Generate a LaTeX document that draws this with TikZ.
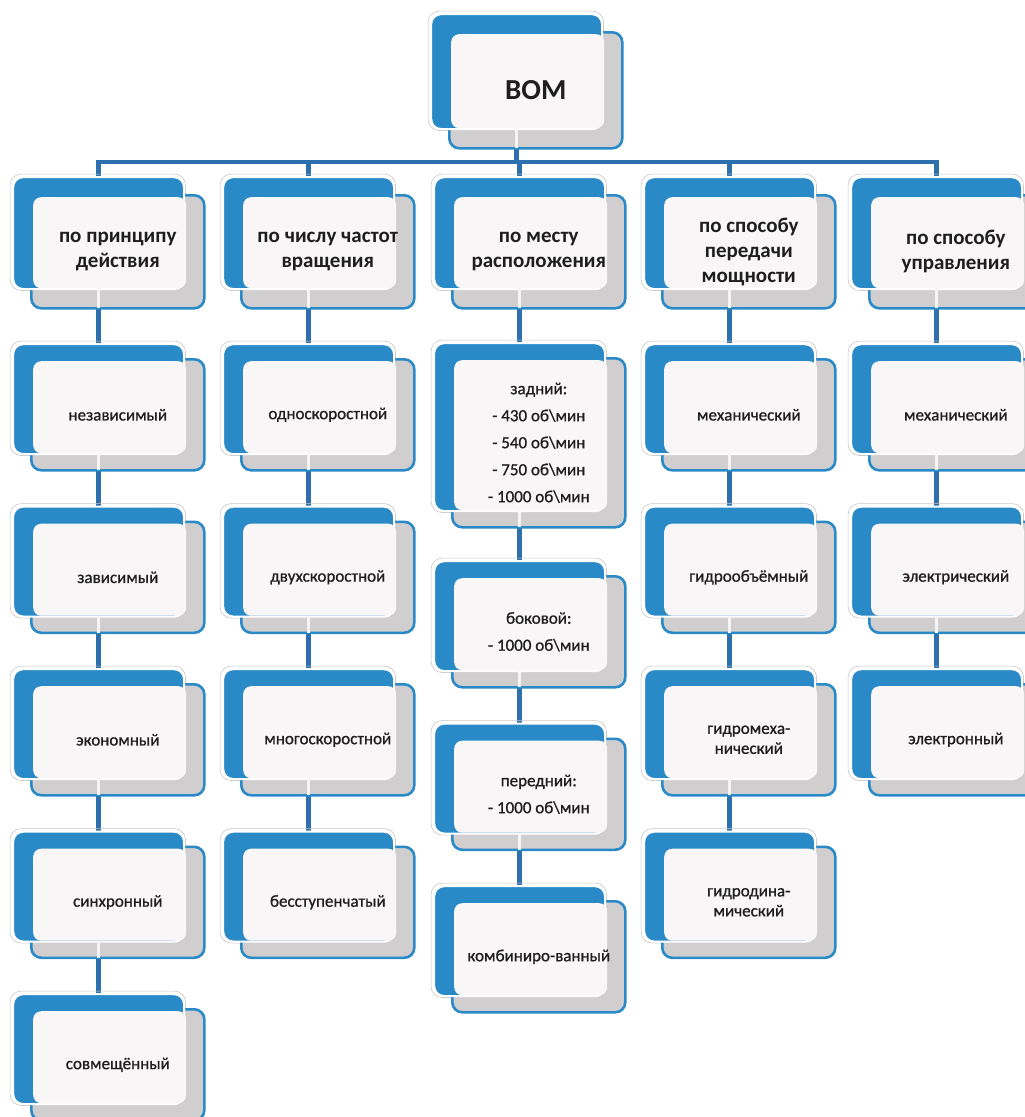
\documentclass[tikz,border=0pt]{standalone}
\usepackage{fontspec}
\setmainfont{Carlito}
\usetikzlibrary{backgrounds}
\definecolor{bl}{HTML}{2A8AC8}
\definecolor{gr}{HTML}{D0CECE}
\definecolor{wh}{HTML}{F8F6F7}
\definecolor{cn}{HTML}{2E70AE}
\definecolor{tx}{HTML}{1E1E1E}
\tikzset{
  outerln/.style={draw=black!22, line width=0.6pt, rounded corners=11pt, inner sep=0pt, anchor=north west},
  bluebox/.style={fill=bl, draw=white, line width=2.2pt, rounded corners=10pt, inner sep=0pt, anchor=north west},
  framebox/.style={fill=gr, draw=bl, line width=2.6pt, rounded corners=10pt, inner sep=0pt, anchor=north west},
  frontbox/.style={fill=wh, rounded corners=8pt, inner sep=0pt, anchor=north west},
  conn/.style={draw=cn, line width=4.5pt},
  wseg/.style={draw=white!96!black, line width=2.5pt},
  lvtop/.style={font=\fontsize{29}{34}\selectfont\bfseries, text=tx, align=center},
  lvone/.style={font=\fontsize{21}{25}\selectfont\bfseries, text=tx, align=center},
  lvtwo/.style={font=\fontsize{17}{20}\selectfont\addfontfeature{FakeBold=0.9}, text=tx, align=center},
  lvtwow/.style={font=\fontsize{17}{27}\selectfont\addfontfeature{FakeBold=0.9}, text=tx, align=center},
}
% #1 name, #2 x0, #3 y0, #4 h, #5 d, #6 text style, #7 text
\newcommand\mkbox[7]{%
  \node[outerln, minimum width=175.4pt, minimum height={#4+4.4}] (#1-o) at ({#2-2.2},{#3-2.2}) {};
  \node[framebox, minimum width=173pt, minimum height={#4+1}] (#1-f) at ({#2+18},{#3+#5}) {};
  \node[bluebox, minimum width=171pt, minimum height={#4}] (#1) at (#2,#3) {};
  \node[frontbox, minimum width=153pt, minimum height={#4-#5-3}] (#1-w) at ({#2+21},{#3+#5+3}) {};
  \node[#6] (#1-t) at (#1-f.center) {#7};
}
\begin{document}
\begin{tikzpicture}[x=1pt, y=-1pt]
\useasboundingbox (0,0) rectangle (1025,1117);
\clip (0,0) rectangle (1025,1117);
% top
\mkbox{bom}{430}{13}{115}{18}{lvtop}{ВОМ}
% level 1
\mkbox{a0}{12}{176}{112}{18}{lvone}{по принципу\\действия}
\mkbox{b0}{222}{176}{112}{18}{lvone}{по числу частот\\вращения}
\mkbox{c0}{433}{176}{112}{18}{lvone}{по месту\\расположения}
\mkbox{d0}{643}{176}{112}{18}{lvone}{по способу\\передачи\\мощности}
\mkbox{e0}{850}{176}{112}{18}{lvone}{по способу\\управления}
% column 1
\mkbox{a1}{12}{343}{110}{15}{lvtwo}{независимый}
\mkbox{a2}{12}{505.5}{110}{15}{lvtwo}{зависимый}
\mkbox{a3}{12}{668}{110}{15}{lvtwo}{экономный}
\mkbox{a4}{12}{830.5}{110}{15}{lvtwo}{синхронный}
\mkbox{a5}{12}{993}{110}{15}{lvtwo}{совмещённый}
% column 2
\mkbox{b1}{222}{343}{110}{15}{lvtwo}{односкоростной}
\mkbox{b2}{222}{505.5}{110}{15}{lvtwo}{двухскоростной}
\mkbox{b3}{222}{668}{110}{15}{lvtwo}{многоскоростной}
\mkbox{b4}{222}{830.5}{110}{15}{lvtwo}{бесступенчатый}
% column 3
\mkbox{c1}{433}{342}{168}{15}{lvtwow}{задний:\\- 430 об\textbackslash мин\\- 540 об\textbackslash мин\\- 750 об\textbackslash мин\\- 1000 об\textbackslash мин}
\mkbox{c2}{433}{560}{110}{15}{lvtwow}{боковой:\\- 1000 об\textbackslash мин}
\mkbox{c3}{433}{722.5}{110}{15}{lvtwow}{передний:\\- 1000 об\textbackslash мин}
\mkbox{c4}{433}{885}{110}{15}{lvtwo}{комбиниро-ванный}
% column 4
\mkbox{d1}{643}{343}{110}{15}{lvtwo}{механический}
\mkbox{d2}{643}{505.5}{110}{15}{lvtwo}{гидрообъёмный}
\mkbox{d3}{643}{668}{110}{15}{lvtwo}{гидромеха-\\нический}
\mkbox{d4}{643}{830.5}{110}{15}{lvtwo}{гидродина-\\мический}
% column 5
\mkbox{e1}{850}{343}{110}{15}{lvtwo}{механический}
\mkbox{e2}{850}{505.5}{110}{15}{lvtwo}{электрический}
\mkbox{e3}{850}{668}{110}{15}{lvtwo}{электронный}
% white segments in the grey frame below the front boxes
\foreach \n in {bom,a0,a1,a2,a3,a4,b0,b1,b2,b3,c0,c1,c2,c3,d0,d1,d2,d3,e0,e1,e2}
  \draw[wseg] (\n.south |- \n-w.south) -- ([yshift=1.4pt]\n.south |- \n-f.south);
% connectors
\begin{scope}[on background layer]
  \fill[white] (0,0) rectangle (1025,1117);
  \coordinate (bus) at (518,162);
  \draw[conn] (bom.center) -- (bom.center |- bus);
  \draw[conn] (a0.north) |- (bus) -| (e0.north);
  \draw[conn] (b0.north) -- (b0.north |- bus);
  \draw[conn] (c0.north) -- (c0.north |- bus);
  \draw[conn] (d0.north) -- (d0.north |- bus);
  \draw[conn] (a0.center) -- (a1.center) -- (a2.center) -- (a3.center) -- (a4.center) -- (a5.center);
  \draw[conn] (b0.center) -- (b1.center) -- (b2.center) -- (b3.center) -- (b4.center);
  \draw[conn] (c0.center) -- (c1.center) -- (c2.center) -- (c3.center) -- (c4.center);
  \draw[conn] (d0.center) -- (d1.center) -- (d2.center) -- (d3.center) -- (d4.center);
  \draw[conn] (e0.center) -- (e1.center) -- (e2.center) -- (e3.center);
\end{scope}
\end{tikzpicture}
\end{document}
